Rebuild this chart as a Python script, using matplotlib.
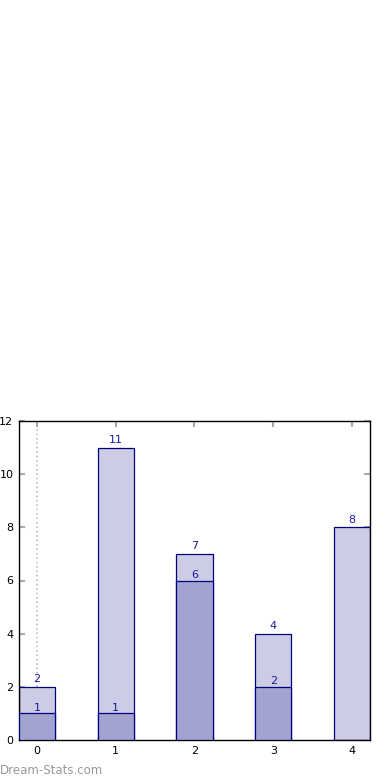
import matplotlib.pyplot as plt

categories = [0, 1, 2, 3, 4]
totals = [2, 11, 7, 4, 8]
inner = [1, 1, 6, 2, 0]
yticks = [0, 2, 4, 6, 8, 10, 12]

light = '#ccccE4'
dark = '#a3a3d1'
edge = '#000080'
label_color = '#1a1aa0'

fig = plt.figure(figsize=(3.9, 7.8), dpi=100)
ax = fig.add_axes([19 / 390, 40 / 780, 351 / 390, 319 / 780])

ax.axvline(0, color='#bbbbbb', linestyle=':', linewidth=1.2, zorder=0)

width = 0.46
ax.bar(categories, totals, width=width, color=light, edgecolor=edge, linewidth=0.9, zorder=2)
for x, v in zip(categories, totals):
    ax.text(x, v + 0.1, str(v), ha='center', va='bottom', fontsize=8, color=label_color, zorder=4)

inner_x = [x for x, v in zip(categories, inner) if v > 0]
inner_v = [v for v in inner if v > 0]
ax.bar(inner_x, inner_v, width=width, color=dark, edgecolor=edge, linewidth=0.9, zorder=3)
for x, v in zip(inner_x, inner_v):
    ax.text(x, v + 0.02, str(v), ha='center', va='bottom', fontsize=8, color=label_color, zorder=4)

ax.set_xlim(-0.23, 4.23)
ax.set_ylim(0, 12)
ax.set_xticks(categories)
ax.set_yticks(yticks)
ax.tick_params(direction='in', length=4, width=1.5, color='#aaaaaa',
               labelsize=8, top=True, right=True, pad=4)
for s in ax.spines.values():
    s.set_linewidth(1.0)
    s.set_color('black')

fig.text(0.0, 10 / 780, 'Dream-Stats.com', fontsize=8.5, color='#999999',
         ha='left', va='center')

fig.savefig('out.png', dpi=100)
